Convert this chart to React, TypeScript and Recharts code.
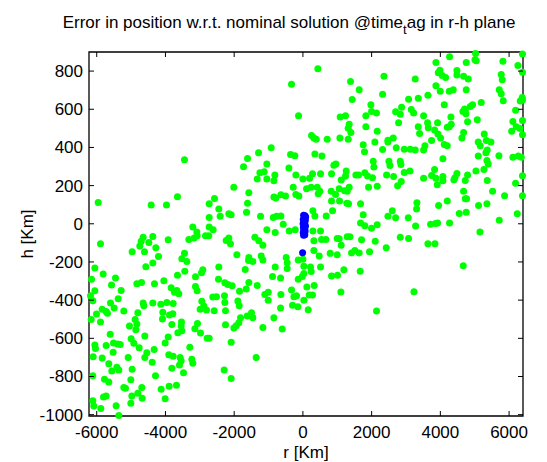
import { ScatterChart, Scatter, XAxis, YAxis, ReferenceArea, Label } from "recharts";

const FONT = "'Liberation Sans', Arial, Helvetica, sans-serif";

const rTicks = [-6000, -4000, -2000, 0, 2000, 4000, 6000];
const hTicks = [-1000, -800, -600, -400, -200, 0, 200, 400, 600, 800];
const rDomain: [number, number] = [-6225, 6405];
const hDomain: [number, number] = [-1007, 900];

// [r, h] in Km
const greenUpperLeft: [number, number][] = [
  [-3446, 335], [-5958, 112], [-4416, 98], [-3970, 98], [-3650, 142], [-2728, 105], [-2573, 133],
  [-2447, 77], [-2728, 33], [-2408, 40], [-2156, 53], [-2088, 47], [-2010, 192], [-3204, -17],
  [-3087, -43], [-2728, -17], [-2612, -31],
];

const greenUpperMiddle: [number, number][] = [
  [435, 812], [-331, 731], [1386, 745], [1638, 702], [1435, 651], [-127, 566], [1978, 623],
  [1997, 588], [2143, 580], [1832, 566], [1085, 559], [1240, 566], [1347, 522], [1318, 501],
  [1396, 478], [1832, 508], [2162, 485], [251, 463], [387, 443], [319, 450], [707, 443],
  [1076, 449], [1318, 443], [2094, 428], [1755, 414], [1793, 377], [-923, 398], [-1291, 372],
  [-360, 363], [-234, 356], [349, 365], [552, 355], [-1611, 342], [-1049, 313], [-1728, 299],
  [-408, 292], [901, 307], [959, 313], [2046, 328], [2065, 297], [-1252, 267], [-1126, 273],
  [-816, 255], [-1330, 234], [-1049, 234], [-845, 225], [-205, 255], [-1, 234], [193, 239],
  [280, 262], [513, 262], [833, 262], [1260, 276], [1541, 255], [1619, 255], [1803, 267],
  [1881, 250], [2026, 241], [1114, 229], [1240, 250], [-282, 192], [106, 183], [241, 192],
  [416, 192], [494, 170], [445, 157], [823, 170], [949, 154], [1056, 183], [1211, 173],
  [1347, 192], [1289, 171], [1910, 192], [2162, 197], [-1573, 163], [-845, 140], [-787, 135],
  [-641, 152], [-506, 145], [-205, 154], [-118, 145], [833, 119], [1066, 119], [1279, 108],
  [1328, 105], [1677, 105], [-1611, 108], [-1640, 61], [-1233, 39], [-864, 33], [-767, 39],
  [-641, 41], [862, 68], [290, 68], [678, 41], [348, 41], [1755, 47], [-573, -3], [-1049, -31],
  [-806, -45], [-399, -38], [-224, -31], [290, -38], [513, -38], [1677, 4], [1803, -10],
  [2162, -5], [1997, -24],
];

const greenUpperRight: [number, number][] = [
  [4268, 875], [5025, 892], [6390, 889], [3871, 845], [4753, 845], [5006, 859], [5044, 854],
  [5820, 852], [6257, 829], [6390, 794], [3987, 805], [3939, 791], [4055, 777], [4152, 766],
  [4482, 803], [4482, 780], [4676, 773], [4812, 759], [2358, 773], [3269, 759], [5772, 782],
  [5801, 754], [3871, 723], [3997, 695], [4259, 695], [4375, 702], [4753, 702], [5714, 702],
  [5772, 681], [5830, 644], [2319, 679], [3638, 674], [3357, 658], [3075, 653], [6383, 662],
  [6390, 648], [6325, 643], [4113, 623], [4705, 602], [4938, 623], [4870, 615], [5190, 635],
  [2872, 611], [2698, 587], [2833, 574], [3153, 599], [3221, 580], [3512, 566], [4307, 559],
  [4656, 588], [4744, 576], [4725, 594], [6189, 595], [5074, 545], [4792, 534], [2784, 529],
  [3628, 529], [3648, 503], [3357, 508], [3919, 529], [4317, 522], [4201, 506], [4259, 508],
  [6111, 536], [6208, 508], [6073, 485], [6390, 541], [6315, 499], [6390, 466], [3395, 473],
  [3832, 492], [3929, 470], [4007, 449], [4676, 478], [4627, 449], [5277, 471], [2474, 438],
  [2629, 449], [2474, 428], [3745, 437], [4113, 416], [4201, 409], [5103, 428], [5161, 409],
  [5336, 437], [5471, 428], [2319, 389], [2716, 398], [2949, 391], [3124, 391], [3269, 386],
  [3512, 386], [3551, 409], [5365, 386], [5326, 372], [5103, 355], [5704, 356], [6111, 349],
  [6267, 355], [6354, 349], [4074, 341], [2503, 327], [2532, 306], [2833, 327], [2852, 311],
  [5355, 332], [5394, 313], [5268, 285], [5035, 276], [3114, 276], [2949, 269], [2435, 255],
  [2639, 248], [3832, 285], [3745, 253], [3871, 239], [4074, 248], [4074, 225], [4482, 264],
  [4424, 241], [4395, 231], [4792, 255], [4724, 227], [3512, 239], [2862, 222], [2755, 199],
  [3910, 204], [5365, 227], [6189, 213], [6390, 252], [5520, 170], [5869, 147], [4676, 170],
  [4724, 131], [4763, 131], [6390, 147], [3318, 110], [3308, 77], [4201, 119], [3949, 96],
  [5112, 96], [5355, 105], [4550, 54], [4753, 60], [2600, 68], [2474, 39], [2697, 32],
  [3066, 32], [6238, 53], [5714, 18], [3279, -12], [3716, -3], [3861, 2], [3919, 4], [4268, 4],
  [5151, -43],
];

const greenLowerLeft: [number, number][] = [
  [-5891, -105], [-4649, -71], [-4707, -92], [-4746, -117], [-4484, -98], [-4368, -66],
  [-4969, -146], [-4280, -126], [-4610, -146], [-4203, -171], [-3921, -84], [-3320, -82],
  [-3165, -75], [-3078, -63], [-2835, -63], [-2738, -63], [-2234, -87], [-2156, -75],
  [-2108, -105], [-3446, -155], [-3524, -183], [-3378, -197], [-4571, -225], [-4368, -206],
  [-6055, -232], [-5813, -263], [-6152, -291], [-5454, -284], [-5570, -321], [-6055, -351],
  [-6182, -377], [-6114, -403], [-5289, -349], [-5376, -393], [-4833, -314], [-4697, -307],
  [-4319, -314], [-4047, -298], [-3650, -270], [-3437, -249], [-3126, -277], [-2951, -256],
  [-2913, -241], [-2447, -227], [-2457, -291], [-2272, -309], [-2185, -318], [-2059, -324],
  [-3834, -335], [-3737, -359], [-3669, -349], [-3611, -366], [-3126, -328], [-3078, -351],
  [-2515, -382], [-2622, -384], [-2282, -377], [-4649, -415], [-4630, -429], [-4368, -415],
  [-4135, -422], [-3960, -413], [-3776, -417], [-5600, -415], [-5493, -441], [-5842, -448],
  [-5726, -459], [-5687, -469], [-6007, -473], [-6162, -501], [-5891, -515], [-5212, -457],
  [-4804, -466], [-4077, -464], [-4087, -499], [-3883, -478], [-3786, -471], [-2942, -406],
  [-2884, -431], [-2990, -448], [-2806, -452], [-2583, -455], [-2253, -455], [-2272, -413],
  [-4882, -501], [-4833, -525], [-5047, -536], [-4862, -555], [-3815, -527], [-3534, -515],
  [-3543, -536], [-3524, -560], [-3068, -522], [-3145, -550], [-2981, -572], [-2253, -529],
  [-3921, -593], [-4009, -625], [-3640, -571], [-4601, -588], [-2787, -600], [-2728, -600],
  [-2088, -621], [-5609, -579], [-6055, -635], [-6036, -653], [-5726, -638], [-5512, -625],
  [-5396, -630], [-5318, -633], [-4998, -602], [-4920, -626], [-4765, -649], [-5522, -673],
  [-6104, -696], [-5842, -703], [-5085, -701], [-4601, -701], [-4542, -675], [-4329, -659],
  [-3902, -686], [-3776, -694], [-3572, -700], [-3543, -717], [-3592, -740], [-3815, -757],
  [-3291, -647], [-3233, -710], [-3204, -731], [-3475, -780], [-5648, -733], [-5561, -771],
  [-5415, -752], [-5357, -766], [-4969, -762], [-4387, -726], [-4290, -796], [-6114, -796],
  [-5774, -815], [-5648, -829], [-5008, -817], [-5212, -858], [-5163, -862], [-4688, -858],
  [-4804, -888], [-4979, -902], [-4678, -914], [-4125, -867], [-3892, -851], [-3679, -846],
  [-4009, -916], [-5803, -907], [-5726, -902], [-5008, -940], [-5435, -953], [-6114, -927],
  [-6085, -954], [-5881, -968], [-5357, -1004], [-2292, -766], [-2088, -810],
];

const greenLowerMiddle: [number, number][] = [
  [-1398, -70], [-1282, -89], [-1165, -112], [319, -89], [542, -82], [668, -82], [998, -77],
  [1056, -78], [1289, -68], [1367, -68], [1706, -84], [2104, -91], [1114, -112], [-1922, -162],
  [-1573, -176], [-1582, -192], [-1456, -197], [-1214, -169], [-1165, -190], [-486, -176],
  [-457, -204], [-457, -234], [-137, -190], [0, -186], [319, -140], [474, -169], [794, -155],
  [998, -162], [1415, -153], [1512, -140], [1638, -153], [1939, -146], [513, -227], [28, -222],
  [222, -227], [241, -250], [-1679, -239], [-806, -227], [-884, -276], [-651, -284], [28, -260],
  [-20, -276], [-137, -291], [833, -274], [1008, -270], [1192, -241], [1667, -248],
  [-1573, -307], [-1650, -342], [-1844, -354], [-1330, -323], [115, -331], [328, -323],
  [280, -373], [183, -373], [-331, -347], [-263, -382], [-186, -377], [-1107, -370],
  [-1010, -359], [-1010, -400], [-641, -370], [28, -401], [-1893, -405], [-1854, -429],
  [-302, -427], [-147, -434], [-651, -441], [154, -450], [1105, -358], [2143, -457],
  [-1495, -466], [-1621, -483], [-1456, -492], [-1815, -492], [-1864, -518], [-1941, -534],
  [-2009, -546], [-845, -492], [-1165, -544], [-603, -551], [-1359, -701],
];

const greenLowerRight: [number, number][] = [
  [2425, -126], [2833, -70], [3075, -77], [3638, -105], [3842, -105], [4666, -220], [3231, -356],
];

const bluePoints: [number, number][] = [
  [20, 45], [60, 42], [80, 35], [40, 30], [10, 22], [70, 18], [30, 10], [55, 5], [5, 0],
  [45, -8], [75, -12], [15, -18], [50, -25], [25, -32], [65, -38], [10, -45], [40, -50],
  [55, -58], [20, -60], [-9, -152],
];

const toRows = (pts: [number, number][]) => pts.map(([r, h]) => ({ r, h }));

const greenData = toRows([
  ...greenUpperLeft,
  ...greenUpperMiddle,
  ...greenUpperRight,
  ...greenLowerLeft,
  ...greenLowerMiddle,
  ...greenLowerRight,
]);
const blueData = toRows(bluePoints);

const W = 547;
const H = 462;
const PLOT_TOP = 52;
const PLOT_BOTTOM = 416;
const PLOT_LEFT = 89;
const PLOT_RIGHT = 523;
const TICK = 5;
const FS = 17;

const XTick = (props: any) => {
  const { x, payload } = props;
  return (
    <g>
      <line x1={x} x2={x} y1={PLOT_BOTTOM} y2={PLOT_BOTTOM - TICK} stroke="#000" />
      <line x1={x} x2={x} y1={PLOT_TOP} y2={PLOT_TOP + TICK} stroke="#000" />
      <text x={x} y={PLOT_BOTTOM + 22} textAnchor="middle" fontSize={FS} fontFamily={FONT} fill="#000">
        {payload.value}
      </text>
    </g>
  );
};

const YTick = (props: any) => {
  const { y, payload } = props;
  return (
    <g>
      <line x1={PLOT_LEFT} x2={PLOT_LEFT + TICK} y1={y} y2={y} stroke="#000" />
      <line x1={PLOT_RIGHT} x2={PLOT_RIGHT - TICK} y1={y} y2={y} stroke="#000" />
      <text x={PLOT_LEFT - 6} y={y + 6} textAnchor="end" fontSize={FS} fontFamily={FONT} fill="#000">
        {payload.value}
      </text>
    </g>
  );
};

const dot = (color: string) => (p: any) => <circle cx={p.cx} cy={p.cy} r={3.5} fill={color} />;

export default function App() {
  return (
    <div style={{ position: "absolute", left: 0, top: 0, width: W, height: H, background: "#fff", overflow: "hidden" }}>
      <div
        style={{
          position: "absolute",
          left: 0,
          top: 13,
          width: 578,
          textAlign: "center",
          fontFamily: FONT,
          fontSize: 17,
          lineHeight: "19px",
          color: "#000",
          whiteSpace: "nowrap",
        }}
      >
        Error in position w.r.t. nominal solution @time
        <span style={{ fontSize: 13, position: "relative", top: 6 }}>t</span>
        ag in r-h plane
      </div>
      <ScatterChart
        width={W}
        height={H}
        margin={{ top: PLOT_TOP, right: W - PLOT_RIGHT, bottom: 0, left: 0 }}
        style={{ position: "absolute", left: 0, top: 0 }}
      >
        <XAxis
          type="number"
          dataKey="r"
          domain={rDomain}
          ticks={rTicks}
          interval={0}
          height={H - PLOT_BOTTOM}
          tick={XTick}
          tickLine={false}
          axisLine={false}
        >
          <Label value="r [Km]" position="insideBottom" offset={4} fontSize={FS} fontFamily={FONT} fill="#000" />
        </XAxis>
        <YAxis
          type="number"
          dataKey="h"
          domain={hDomain}
          ticks={hTicks}
          interval={0}
          width={PLOT_LEFT}
          tick={YTick}
          tickLine={false}
          axisLine={false}
        >
          <Label
            value="h [Km]"
            angle={-90}
            position="insideLeft"
            offset={27}
            fontSize={FS}
            fontFamily={FONT}
            fill="#000"
            style={{ textAnchor: "middle" }}
          />
        </YAxis>
        <ReferenceArea
          x1={rDomain[0]}
          x2={rDomain[1]}
          y1={hDomain[0]}
          y2={hDomain[1]}
          fill="none"
          fillOpacity={0}
          stroke="#000"
          strokeWidth={1.3}
          strokeOpacity={1}
        />
        <Scatter data={greenData} fill="#00ff00" shape={dot("#00ff00")} isAnimationActive={false} />
        <Scatter data={blueData} fill="#0000ff" shape={dot("#0000ff")} isAnimationActive={false} />
      </ScatterChart>
    </div>
  );
}
